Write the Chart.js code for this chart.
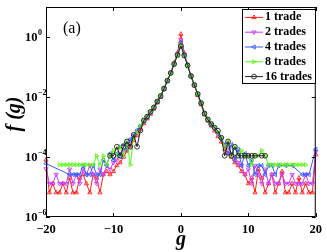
<!DOCTYPE html>
<html>
<head>
<meta charset="utf-8">
<script src="https://cdn.jsdelivr.net/npm/chart.js@4.4.0/dist/chart.umd.min.js"></script>
<style>
  html, body { margin: 0; padding: 0; background: #fff; }
  #wrap { width: 327px; height: 252px; }
</style>
</head>
<body>
<div id="wrap"><canvas id="chart"></canvas></div>
<script>
/* ---- data (bin centres g, frequency f) ---- */
const gValues = [
  -20, -19.5, -19, -18.5, -18, -17.5, -17, -16.5, -16, -15.5, -15, -14.5, -14, -13.5, -13, -12.5, -12, -11.5, -11, -10.5,
  -10, -9.5, -9, -8.5, -8, -7.5, -7, -6.5, -6, -5.5, -5, -4.5, -4, -3.5, -3, -2.5, -2, -1.5, -1, -0.5,
  0, 0.5, 1, 1.5, 2, 2.5, 3, 3.5, 4, 4.5, 5, 5.5, 6, 6.5, 7, 7.5, 8, 8.5, 9, 9.5,
  10, 10.5, 11, 11.5, 12, 12.5, 13, 13.5, 14, 14.5, 15, 15.5, 16, 16.5, 17, 17.5, 18, 18.5, 19, 19.5, 20
];

const trades1 = [
  8e-5, 6.5e-6, 1.3e-5, 6.5e-6, 6.5e-6, 1.3e-5, 6.5e-6, 2e-5, 6.5e-6, 6.5e-6, 2e-5, 2.6e-5, 1.3e-5, 6.5e-6, 2.6e-5, 2e-5, 6.5e-6, 2.6e-5, 3.3e-5, 2.6e-5,
  3.3e-5, 5.2e-5, 6.5e-5, 1.0e-4, 1.6e-4, 2.2e-4, 3.6e-4, 5.2e-4, 8.5e-4, 1.3e-3, 1.9e-3, 2.7e-3, 4.0e-3, 6.5e-3, 1.0e-2, 1.8e-2, 3.4e-2, 6.5e-2, 0.14, 0.3,
  1.25, 0.29, 0.12, 0.05, 0.024, 1.15e-2, 5.6e-3, 2.6e-3, 1.6e-3, 1.1e-3, 7.5e-4, 4.8e-4, 3.2e-4, 1.8e-4, 1.3e-4, 1.0e-4, 6.5e-5, 5.2e-5, 3.3e-5, 2.6e-5,
  1.3e-5, 2e-5, 6.5e-6, 3.9e-5, 2e-5, 6.5e-6, 1.3e-5, 2.6e-5, 6.5e-6, 1.3e-5, 3.3e-5, 6.5e-6, 6.5e-6, 1.3e-5, 6.5e-6, 2e-5, 6.5e-6, 1.3e-5, 6.5e-6, 6.5e-6, 1.2e-4
];

const trades2 = [
  4e-5, 1.3e-5, 1.3e-5, 2.6e-5, 1.3e-5, 1.3e-5, 1.3e-5, 3.9e-5, 1.3e-5, 2.6e-5, 1.3e-5, 3.9e-5, 2.6e-5, 5.2e-5, 2.6e-5, 1.3e-5, 3.9e-5, 2.6e-5, 5.2e-5, 3.9e-5,
  6.5e-5, 7.8e-5, 1.3e-4, 1.56e-4, 2.6e-4, 3.4e-4, 5.2e-4, 6.5e-4, 1.0e-3, 1.5e-3, 2.1e-3, 3.0e-3, 4.4e-3, 7.0e-3, 1.05e-2, 1.9e-2, 3.5e-2, 6.5e-2, 0.13, 0.27,
  0.8, 0.26, 0.115, 0.05, 0.025, 1.2e-2, 6.0e-3, 2.8e-3, 1.7e-3, 1.2e-3, 8.5e-4, 5.8e-4, 3.9e-4, 2.6e-4, 2.1e-4, 1.3e-4, 1.04e-4, 6.5e-5, 5.2e-5, 2.6e-5,
  3.9e-5, 1.3e-5, 5.2e-5, 2.6e-5, 1.3e-5, 3.9e-5, 1.3e-5, 2.6e-5, 1.3e-5, 1.3e-5, 2.6e-5, 1.3e-5, 1.3e-5, 2.6e-5, 1.3e-5, 1.3e-5, 1.3e-5, 2.6e-5, 1.3e-5, 1.3e-5, 1.5e-4
];

const trades4 = [
  6e-5, null, null, null, null, null, null, 2.6e-5, 2.6e-5, 2.6e-5, 2.6e-5, 5.2e-5, 2.6e-5, 2.6e-5, 5.2e-5, 2.6e-5, 2.6e-5, 7.8e-5, 5.2e-5, 1.3e-4,
  7.8e-5, 1.3e-4, 1.04e-4, 2.6e-4, 1.8e-4, 3.9e-4, 5.2e-4, 7.8e-4, 1.1e-3, 1.6e-3, 2.2e-3, 3.2e-3, 4.6e-3, 7.2e-3, 1.1e-2, 1.9e-2, 3.6e-2, 6.4e-2, 0.127, 0.26,
  0.65, 0.25, 0.113, 0.05, 0.025, 1.25e-2, 6.2e-3, 2.9e-3, 1.8e-3, 1.25e-3, 9.0e-4, 6.0e-4, 3.9e-4, 2.6e-4, 1.3e-4, 2.6e-4, 7.8e-5, 1.8e-4, 5.2e-5, 1.3e-4,
  5.2e-5, 7.8e-5, 2.6e-5, 5.2e-5, 5.2e-5, 2.6e-5, 5.2e-5, 5.2e-5, 2.6e-5, 5.2e-5, null, 5.2e-5, null, 5.2e-5, null, null, 2.6e-5, 2.6e-5, 2.6e-5, null, 1.8e-4
];

const trades8 = [
  null, null, null, null, 5.5e-5, 5.5e-5, 5.5e-5, 5.5e-5, 5.5e-5, 5.5e-5, 5.5e-5, 5.5e-5, 5.5e-5, 5.5e-5, 5.5e-5, 1.1e-4, 5.5e-5, 1.1e-4, 5.5e-5, 1.1e-4,
  1.65e-4, 1.1e-4, 2.2e-4, 1.1e-4, 3.3e-4, 5.5e-5, 4.4e-4, 6.6e-4, 1.1e-3, 1.7e-3, 2.3e-3, 3.3e-3, 4.6e-3, 7.3e-3, 1.1e-2, 1.95e-2, 3.6e-2, 6.3e-2, 0.125, 0.25,
  0.55, 0.24, 0.11, 0.05, 0.025, 1.28e-2, 6.4e-3, 3.0e-3, 1.85e-3, 1.3e-3, 9.5e-4, 6.6e-4, 4.4e-4, 2.2e-4, 3.3e-4, 1.1e-4, 2.2e-4, 1.1e-4, 1.65e-4, 1.1e-4,
  1.1e-4, 5.5e-5, 1.1e-4, 1.1e-4, 1.65e-4, 1.1e-4, 5.5e-5, 5.5e-5, 5.5e-5, 5.5e-5, 5.5e-5, 5.5e-5, 5.5e-5, 5.5e-5, 5.5e-5, 5.5e-5, 5.5e-5, 5.5e-5, null, null, null
];

const trades16 = [
  null, null, null, null, null, null, null, null, null, null, null, null, null, null, null, null, null, null, null, 1.1e-4,
  1.1e-4, 2.2e-4, 1.1e-4, 2.2e-4, 3.3e-4, 2.2e-4, 5.5e-4, 2.2e-4, 7.7e-4, 1.65e-3, 2.2e-3, 3.2e-3, 4.5e-3, 7.1e-3, 1.07e-2, 1.9e-2, 3.5e-2, 6.3e-2, 0.125, 0.25,
  0.5, 0.24, 0.112, 0.05, 0.025, 1.26e-2, 6.3e-3, 2.8e-3, 1.78e-3, 1.26e-3, 9.5e-4, 7.5e-4, 4.4e-4, 1.1e-4, 3.3e-4, 1.1e-4, 2.2e-4, 1.1e-4, 1.1e-4, 1.1e-4,
  1.1e-4, 1.1e-4, 1.1e-4, null, 1.1e-4, 1.1e-4, null, null, null, null, null, null, null, null, null, null, null, null, null, null, null
];

const seriesLabels = ['1 trade', '2 trades', '4 trades', '8 trades', '16 trades'];
const xTicks = [-20, -10, 0, 10, 20];
const yTickExponents = [0, -2, -4, -6];

/* ---- styling ---- */
const seriesData = [trades1, trades2, trades4, trades8, trades16];
const seriesColors = ['#ff1e1e', '#c93cff', '#3a5cff', '#5cf21a', '#222222'];
const seriesMarkers = [
  { style: 'triangle', rotation: 0 },
  { style: 'triangle', rotation: 180 },
  { style: 'triangle', rotation: -90 },
  { style: 'triangle', rotation: 90 },
  { style: 'circle', rotation: 0 }
];
const SERIF = "'Liberation Serif', 'Times New Roman', serif";

const datasets = seriesData.map((vals, i) => ({
  label: seriesLabels[i],
  data: gValues.map((g, k) => ({ x: g, y: vals[k] })),
  borderColor: seriesColors[i],
  backgroundColor: 'rgba(0,0,0,0)',
  pointBorderColor: seriesColors[i],
  pointBackgroundColor: 'rgba(0,0,0,0)',
  pointStyle: seriesMarkers[i].style,
  rotation: seriesMarkers[i].rotation,
  pointRadius: 2.4,
  pointBorderWidth: 0.9,
  borderWidth: 1,
  spanGaps: true,
  tension: 0,
  clip: false,
  order: seriesData.length - i
}));

// inward ticks, box, superscript y labels, titles and legend
const decorPlugin = {
  id: 'decor',
  afterDraw(chart) {
    const { ctx, chartArea: a, scales } = chart;
    const xs = scales.x, ys = scales.y;
    ctx.save();
    ctx.strokeStyle = '#000';
    ctx.lineWidth = 1;
    ctx.strokeRect(a.left + 0.5, a.top + 0.5, a.right - a.left - 1, a.bottom - a.top - 1);

    const tl = 4;
    ctx.beginPath();
    xTicks.forEach(v => {
      const px = Math.round(xs.getPixelForValue(v)) + 0.5;
      ctx.moveTo(px, a.bottom); ctx.lineTo(px, a.bottom - tl);
      ctx.moveTo(px, a.top); ctx.lineTo(px, a.top + tl);
    });
    yTickExponents.concat([1]).forEach(e => {
      const py = Math.round(ys.getPixelForValue(Math.pow(10, e))) + 0.5;
      ctx.moveTo(a.left, py); ctx.lineTo(a.left + tl, py);
      ctx.moveTo(a.right, py); ctx.lineTo(a.right - tl, py);
    });
    ctx.stroke();

    // y tick labels 10^n
    ctx.fillStyle = '#000';
    ctx.textBaseline = 'middle';
    yTickExponents.forEach(e => {
      const py = ys.getPixelForValue(Math.pow(10, e));
      ctx.font = 'bold 12.5px ' + SERIF;
      ctx.textAlign = 'right';
      ctx.fillText('10', 37.5, py + 1);
      ctx.font = 'bold 8px ' + SERIF;
      ctx.textAlign = 'left';
      ctx.fillText(e === 0 ? '0' : '\u2212' + Math.abs(e), 38, py - 4);
    });

    // axis titles
    ctx.font = 'italic bold 20px ' + SERIF;
    ctx.textAlign = 'center';
    ctx.fillText('g', (a.left + a.right) / 2, 240);
    ctx.save();
    ctx.translate(15, 114);
    ctx.rotate(-Math.PI / 2);
    ctx.fillText('f (g)', 0, 0);
    ctx.restore();

    // panel label
    ctx.font = '16px ' + SERIF;
    ctx.textAlign = 'left';
    ctx.fillText('(a)', 63, 29);

    // legend
    const lx = 242, ly = 9, lw = 73, lh = 74;
    ctx.fillStyle = '#fff';
    ctx.fillRect(lx, ly, lw, lh);
    ctx.strokeStyle = '#000';
    ctx.lineWidth = 1;
    ctx.strokeRect(lx + 0.5, ly + 0.5, lw, lh);
    const rowH = lh / seriesLabels.length;
    seriesLabels.forEach((lab, i) => {
      const cy = ly + rowH * (i + 0.5) + 1;
      ctx.strokeStyle = seriesColors[i];
      ctx.lineWidth = 1;
      ctx.beginPath();
      ctx.moveTo(lx + 3, cy); ctx.lineTo(lx + 21, cy);
      ctx.stroke();
      ctx.fillStyle = 'rgba(0,0,0,0)';
      ctx.lineWidth = 0.9;
      Chart.helpers.drawPoint(ctx, {
        pointStyle: seriesMarkers[i].style,
        rotation: seriesMarkers[i].rotation,
        radius: 2.4,
        borderWidth: 0.9
      }, lx + 12, cy);
      ctx.fillStyle = '#000';
      ctx.font = 'bold 12px ' + SERIF;
      ctx.textAlign = 'left';
      ctx.fillText(lab, lx + 23, cy);
    });
    ctx.restore();
  }
};

new Chart(document.getElementById('chart'), {
  type: 'line',
  data: { datasets },
  options: {
    responsive: true,
    maintainAspectRatio: false,
    animation: false,
    layout: { padding: { top: 7, right: 8, left: 0, bottom: 0 } },
    plugins: { legend: { display: false }, tooltip: { enabled: false } },
    scales: {
      x: {
        type: 'linear',
        min: -20,
        max: 20,
        afterBuildTicks: s => { s.ticks = xTicks.map(v => ({ value: v })); },
        afterFit: s => { s.height = 35; },
        grid: { display: false, drawTicks: false },
        border: { display: false },
        ticks: {
          color: '#000',
          padding: 5,
          maxRotation: 0,
          font: { family: SERIF, size: 12.5, weight: 'bold' },
          callback: v => (v < 0 ? '\u2212' + Math.abs(v) : String(v))
        }
      },
      y: {
        type: 'logarithmic',
        min: 1e-6,
        max: 10,
        afterFit: s => { s.width = 46; },
        grid: { display: false, drawTicks: false },
        border: { display: false },
        ticks: { display: false }
      }
    }
  },
  plugins: [decorPlugin]
});
</script>
</body>
</html>
